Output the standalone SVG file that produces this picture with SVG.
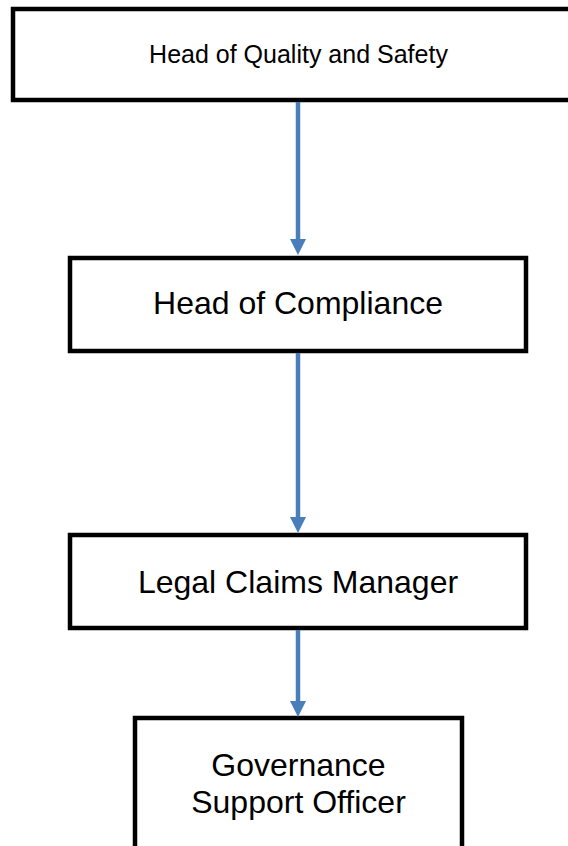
<svg xmlns="http://www.w3.org/2000/svg" width="568" height="846" viewBox="0 0 568 846">
<style>
.box{fill:#ffffff;stroke:#000000;stroke-width:4.5}
.lbl{font-family:"Liberation Sans",Arial,sans-serif;fill:#000000;text-anchor:middle}
.conn{stroke:#4a7ebb;stroke-width:4.5;fill:none}
.head{fill:#4a7ebb}
</style>
<rect width="568" height="846" fill="#ffffff"/>
<g id="node-quality-safety">
<rect class="box" x="13" y="9" width="571" height="91"/>
<text class="lbl" x="298.5" y="63" font-size="25">Head of Quality and Safety</text>
</g>
<g id="node-compliance">
<rect class="box" x="70" y="258" width="456" height="93"/>
<text class="lbl" x="298" y="314" font-size="32">Head of Compliance</text>
</g>
<g id="node-legal-claims">
<rect class="box" x="70" y="535" width="456" height="93"/>
<text class="lbl" x="298" y="592.5" font-size="32">Legal Claims Manager</text>
</g>
<g id="node-governance">
<rect class="box" x="135" y="718" width="327" height="160"/>
<text class="lbl" x="298.5" y="776" font-size="32">Governance</text>
<text class="lbl" x="298.5" y="812.5" font-size="32">Support Officer</text>
</g>
<g id="connectors">
<line class="conn" x1="298" y1="102" x2="298" y2="241"/>
<polygon class="head" points="290,239 306,239 298,255"/>
<line class="conn" x1="298" y1="353" x2="298" y2="519"/>
<polygon class="head" points="290,517 306,517 298,533"/>
<line class="conn" x1="298" y1="630" x2="298" y2="703"/>
<polygon class="head" points="290,701 306,701 298,717"/>
</g>
</svg>
